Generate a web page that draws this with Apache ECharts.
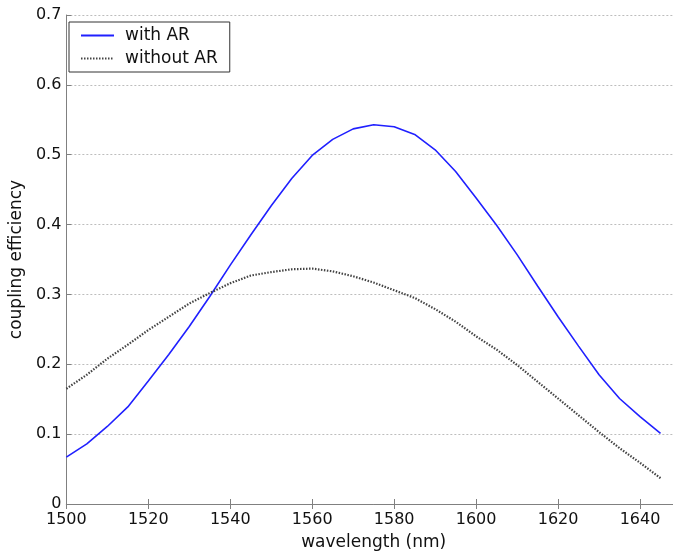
<!DOCTYPE html>
<html>
<head>
<meta charset="utf-8">
<script src="https://cdn.jsdelivr.net/npm/echarts@6/dist/echarts.min.js"></script>
<style>html,body{margin:0;padding:0;background:#fff;overflow:hidden;}#c{width:690px;height:556px;}</style>
</head>
<body>
<div id="c"></div>
<script>
const wavelengths = [1500,1505,1510,1515,1520,1525,1530,1535,1540,1545,1550,1555,1560,1565,1570,1575,1580,1585,1590,1595,1600,1605,1610,1615,1620,1625,1630,1635,1640,1645];
const withAR = [0.067,0.086,0.111,0.139,0.176,0.214,0.254,0.297,0.342,0.385,0.427,0.466,0.499,0.522,0.537,0.543,0.540,0.529,0.507,0.476,0.438,0.399,0.357,0.312,0.268,0.226,0.185,0.151,0.125,0.101];
const withoutAR = [0.165,0.185,0.208,0.228,0.249,0.268,0.287,0.302,0.316,0.327,0.332,0.336,0.337,0.333,0.326,0.317,0.306,0.295,0.279,0.261,0.240,0.221,0.199,0.175,0.151,0.127,0.103,0.080,0.059,0.037];
const xTicks = [1500,1520,1540,1560,1580,1600,1620,1640];
const yTicks = [0,0.1,0.2,0.3,0.4,0.5,0.6,0.7];

const font = 'DejaVu Sans';
const axisCol = '#808080';
const chart = echarts.init(document.getElementById('c'));
const pairs = (xs, ys) => xs.map((x, i) => [x, ys[i]]);
chart.setOption({
  animation: false,
  backgroundColor: '#fff',
  grid: {left: 62, top: 15, width: 619, height: 490, containLabel: false},
  legend: {
    orient: 'vertical', left: 69, top: 22,
    backgroundColor: '#fff', borderColor: '#333', borderWidth: 1, borderRadius: 0,
    padding: [5, 12, 5, 11], itemGap: 6, itemWidth: 33, itemHeight: 12,
    itemStyle: {color: 'rgba(0,0,0,0)', borderWidth: 0, opacity: 0},
    textStyle: {fontFamily: font, fontSize: 17, color: '#111', padding: [0,0,0,6]},
    data: ['with AR', 'without AR']
  },
  xAxis: [{
    type: 'value', min: 1500, max: 1650, interval: 20,
    name: 'wavelength (nm)', nameLocation: 'middle', nameGap: 30,
    nameTextStyle: {fontFamily: font, fontSize: 17, color: '#111'},
    axisLine: {onZero: false, lineStyle: {color: axisCol, width: 1}},
    axisTick: {inside: true, length: 5, lineStyle: {color: axisCol}},
    axisLabel: {fontFamily: font, fontSize: 16, color: '#111', margin: 8,
      formatter: v => xTicks.includes(v) ? String(v) : ''},
    splitLine: {show: false}
  }, {
    type: 'value', min: 1500, max: 1650, interval: 20, position: 'top',
    axisLine: {lineStyle: {color: axisCol, width: 1}},
    axisTick: {inside: true, length: 5, lineStyle: {color: axisCol}},
    axisLabel: {show: false}, splitLine: {show: false}
  }],
  yAxis: [{
    type: 'value', min: 0, max: 0.7, interval: 0.1,
    name: 'coupling efficiency', nameLocation: 'middle', nameGap: 33,
    nameTextStyle: {fontFamily: font, fontSize: 17, color: '#111'},
    axisLine: {show: true, lineStyle: {color: axisCol, width: 1}},
    axisTick: {show: true, inside: true, length: 5, lineStyle: {color: axisCol}},
    axisLabel: {fontFamily: font, fontSize: 16, color: '#111', margin: 5,
      formatter: v => { const t = yTicks.find(y => Math.abs(y - v) < 1e-9); return t === undefined ? '' : (t === 0 ? '0' : t.toFixed(1)); }},
    splitLine: {show: true, lineStyle: {color: '#bdbdbd', type: [2, 2], width: 1}}
  }, {
    type: 'value', min: 0, max: 0.7, interval: 0.1, position: 'right',
    axisLine: {show: true, lineStyle: {color: axisCol}},
    axisTick: {show: true, inside: true, length: 5, lineStyle: {color: axisCol}},
    axisLabel: {show: false}, splitLine: {show: false}
  }],
  series: [{
    name: 'with AR', type: 'line', showSymbol: false, symbol: 'none', smooth: false,
    data: pairs(wavelengths, withAR),
    lineStyle: {color: '#2020ff', width: 1.6}, itemStyle: {color: '#2020ff'}
  }, {
    name: 'without AR', type: 'line', showSymbol: false, symbol: 'none', smooth: false,
    data: pairs(wavelengths, withoutAR),
    lineStyle: {color: '#444', width: 2.2, type: [1.5, 1.5]}, itemStyle: {color: '#444'}
  }]
});
</script>
</body>
</html>
